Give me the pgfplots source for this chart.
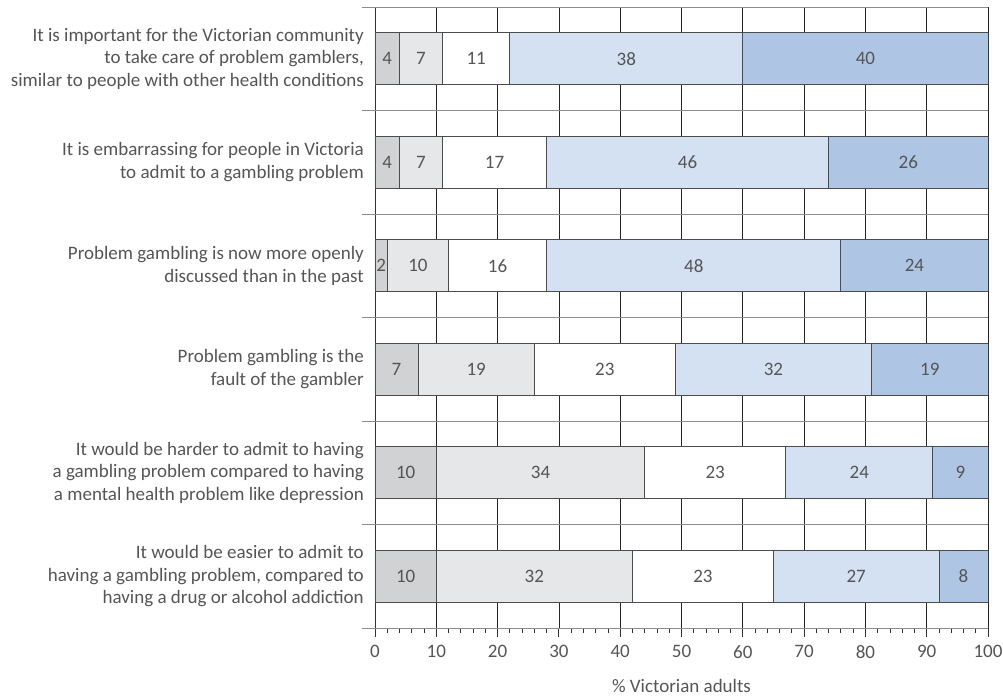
\documentclass[border=0pt]{standalone}
\usepackage{pgfplots}
\pgfplotsset{compat=1.18}
\usepackage{pgfplotstable}
\usepackage{fontspec}
\setmainfont{Carlito}
\definecolor{txt}{HTML}{555555}
\definecolor{c1}{HTML}{D1D2D4}
\definecolor{c2}{HTML}{E6E7E8}
\definecolor{c3}{HTML}{FFFFFF}
\definecolor{c4}{HTML}{D4E1F2}
\definecolor{c5}{HTML}{AFC5E4}
\pgfplotstableread{
y a b c d e
1 4 7 11 38 40
2 4 7 17 46 26
3 2 10 16 48 24
4 7 19 23 32 19
5 10 34 23 24 9
6 10 32 23 27 8
}\data
\newcommand{\seg}[2]{\addplot[fill=#2, draw=black!70, line width=0.8pt]
  table[x=#1,y=y,meta=#1]{\data};}
\begin{document}
\begin{tikzpicture}[font=\fontsize{19}{22.5}\selectfont, text=txt]
\begin{axis}[
  scale only axis, width=613pt, height=621pt,
  xbar stacked, bar width=0.5,
  xmin=0, xmax=100, ymin=0.5, ymax=6.5, y dir=reverse,
  axis lines*=left,
  axis line style={black!80, line width=0.8pt},
  tick align=outside,
  xtick={0,10,...,100}, minor x tick num=4,
  major tick length=9pt, minor tick length=5pt,
  tick style={black!80, line width=0.8pt},
  ytick={1,2,3,4,5,6},
  yticklabels={
    {It is important for the Victorian community\\to take care of problem gamblers,\\similar to people with other health conditions},
    {It is embarrassing for people in Victoria\\to admit to a gambling problem},
    {Problem gambling is now more openly\\discussed than in the past},
    {Problem gambling is the\\fault of the gambler},
    {It would be harder to admit to having\\a gambling problem compared to having\\a mental health problem like depression},
    {It would be easier to admit to\\having a gambling problem, compared to\\having a drug or alcohol addiction}},
  y tick style={draw=none},
  xmajorgrids, ymajorgrids=false,
  x grid style={black!85, line width=0.7pt},
  y grid style={gray!90, line width=1pt},
  extra y ticks={0.5,1.5,...,6.5},
  extra y tick labels={},
  extra y tick style={grid=major, major tick length=13pt,
    y tick style={draw=gray!90, line width=1pt}},
  yticklabel style={align=right, inner sep=0pt, xshift=-2pt, text=txt},
  xticklabel style={text=txt, yshift=-5pt},
  /pgf/number format/assume math mode=true,
  xlabel={\% Victorian adults},
  xlabel style={text=txt, yshift=-14pt},
  point meta=explicit,
  nodes near coords,
  every node near coord/.append style={anchor=center, text=txt},
]
\seg{a}{c1}
\seg{b}{c2}
\seg{c}{c3}
\seg{d}{c4}
\seg{e}{c5}
\end{axis}
\pgfresetboundingbox
\path[use as bounding box] (-375pt,-70pt) rectangle (628pt,628pt);
\end{tikzpicture}
\end{document}
